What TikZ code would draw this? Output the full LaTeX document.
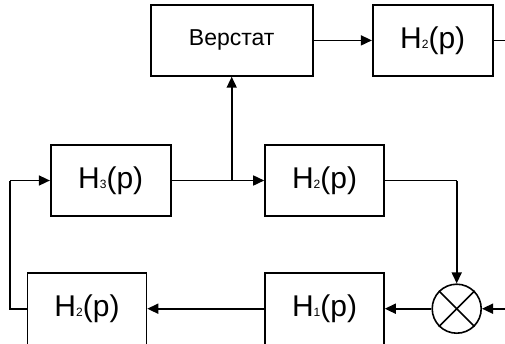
\documentclass[tikz,border=0pt]{standalone}
\usepackage{fontspec}
\setmainfont{Liberation Sans}
\usetikzlibrary{arrows.meta}
\newcommand{\hlab}[1]{H\raisebox{-0.5pt}{\fontsize{12}{12}\selectfont #1}(p)}
\begin{document}
\begin{tikzpicture}[x=1pt,y=-1pt,
  blk/.style={draw, line width=1.6pt, minimum width=120pt, minimum height=71pt, inner sep=0pt, font=\fontsize{30}{32}\selectfont},
  wire/.style={line width=1.6pt},
  arr/.style={wire, -{Triangle[length=11pt,width=10pt]}}]
\useasboundingbox (0,0) rectangle (505,343);
\node[blk, minimum width=162pt, font=\fontsize{23}{25}\selectfont] (ver) at (231.7,40.4) {Верстат};
\node[blk] (h2t) at (432.7,40.4) {\hlab{2}};
\node[blk] (h3) at (110.7,180.5) {\hlab{3}};
\node[blk, minimum width=119pt] (h2m) at (324.5,180.5) {\hlab{2}};
\node[blk, minimum width=119pt, minimum height=72pt] (h2b) at (87,308.7) {\hlab{2}};
\node[blk, minimum width=119pt, minimum height=72pt] (h1) at (324.5,308.7) {\hlab{1}};
\node[draw, circle, line width=1.6pt, minimum size=49pt, inner sep=0pt] (sum) at (456.7,308.7) {};
\draw[wire] (sum.north west) -- (sum.south east);
\draw[wire] (sum.north east) -- (sum.south west);
\coordinate (j) at (231.7,180.5);
\coordinate (outr) at (510,40.4);
\coordinate (inr) at (510,308.7);
\coordinate (fl) at (10,308.7);
\coordinate (fu) at (10,180.5);
\coordinate (rd) at (456.7,180.5);
\draw[arr] (ver) -- (h2t);
\draw[wire] (h2t) -- (outr);
\draw[wire] (h3) -- (j);
\draw[arr] (j) -- (ver);
\draw[arr] (j) -- (h2m);
\draw[wire] (h2m.east) -- (rd);
\draw[arr] (rd) -- (sum);
\draw[arr] (inr) -- (sum);
\draw[arr] (sum) -- (h1);
\draw[arr] (h1) -- (h2b);
\draw[wire] (h2b.west) -- (fl) -- (fu);
\draw[arr] (fu) -- (h3);
\end{tikzpicture}
\end{document}
